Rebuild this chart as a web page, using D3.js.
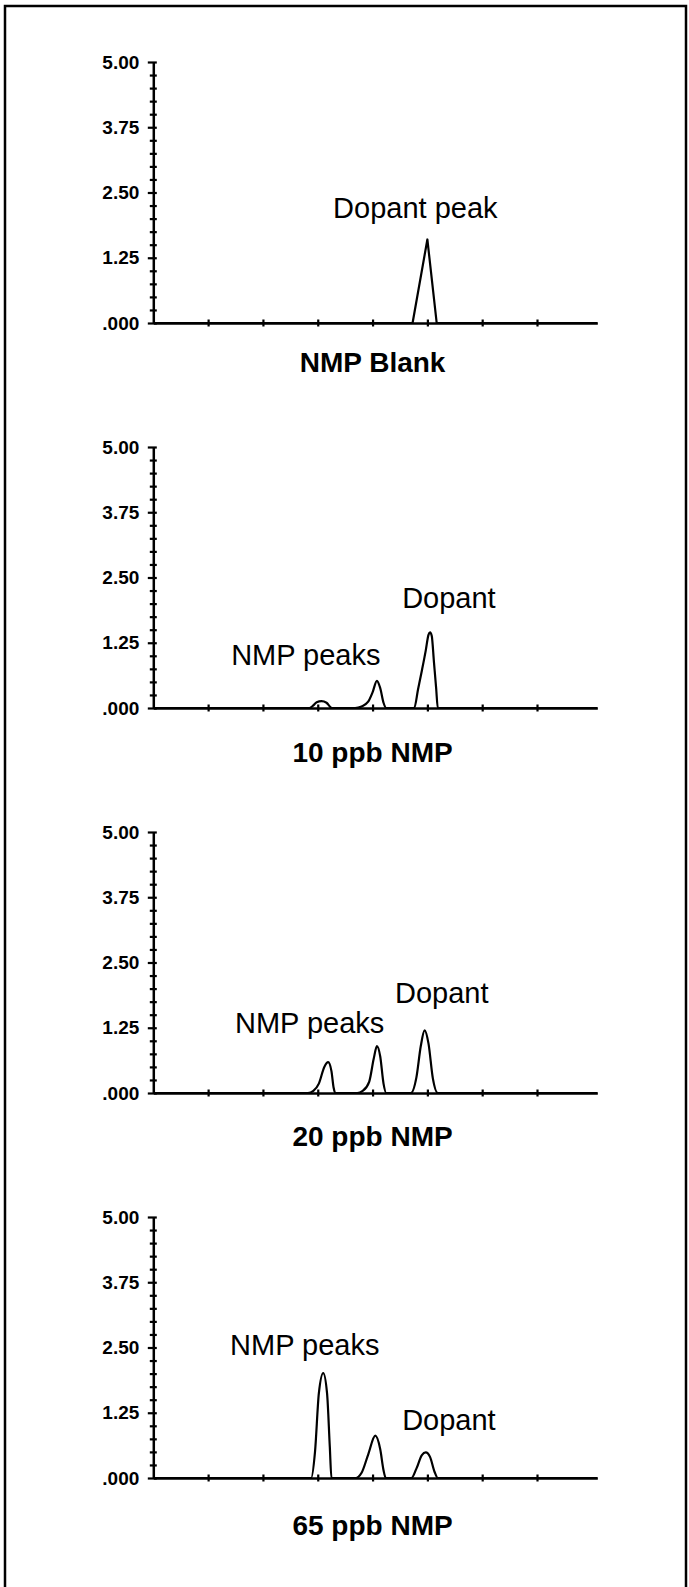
<!DOCTYPE html>
<html>
<head>
<meta charset="utf-8">
<script src="https://cdn.jsdelivr.net/npm/d3@7/dist/d3.min.js"></script>
<style>
body { margin: 0; background: #fff; }
svg { display: block; }
text { font-family: "Liberation Sans", Arial, Helvetica, sans-serif; fill: #000; }
</style>
</head>
<body>
<div id="chart"></div>
<script>
// panel titles
var titles = ["NMP Blank", "10 ppb NMP", "20 ppb NMP", "65 ppb NMP"];

// y axis ticks (every 0.25, labelled every 1.25)
var yTicks = [0, 0.25, 0.5, 0.75, 1, 1.25, 1.5, 1.75, 2, 2.25, 2.5, 2.75, 3, 3.25, 3.5, 3.75, 4, 4.25, 4.5, 4.75, 5];
var yLabelTicks = [0, 1.25, 2.5, 3.75, 5];
var yLabels = [".000", "1.25", "2.50", "3.75", "5.00"];
var xTicks = [1, 2, 3, 4, 5, 6, 7];

// traces [x, signal]
var traceBlank = [[0, 0], [4.73, 0], [5.0, 1.6], [5.17, 0], [8.1, 0]];
var trace10 = [[0, 0], [2.85, 0], [2.92, 0.05], [2.98, 0.11], [3.07, 0.13], [3.16, 0.1], [3.22, 0.03], [3.25, 0],
  [3.68, 0], [3.8, 0.03], [3.92, 0.12], [4.0, 0.3], [4.08, 0.52], [4.14, 0.38], [4.2, 0.1], [4.25, 0],
  [4.76, 0], [4.83, 0.36], [4.9, 0.72], [4.97, 1.1], [5.02, 1.4], [5.05, 1.45], [5.08, 1.38], [5.12, 0.88], [5.16, 0.38], [5.19, 0], [8.1, 0]];
var trace20 = [[0, 0], [2.82, 0], [2.92, 0.04], [3.02, 0.18], [3.12, 0.5], [3.19, 0.59], [3.25, 0.42], [3.29, 0.1], [3.32, 0],
  [3.72, 0], [3.82, 0.04], [3.94, 0.22], [4.02, 0.65], [4.08, 0.9], [4.14, 0.7], [4.2, 0.18], [4.25, 0],
  [4.7, 0], [4.8, 0.3], [4.88, 0.9], [4.95, 1.2], [5.02, 0.95], [5.1, 0.28], [5.19, 0], [8.1, 0]];
var trace65 = [[0, 0], [2.88, 0], [2.95, 0.5], [3.02, 1.62], [3.1, 2.01], [3.17, 1.62], [3.22, 0.6], [3.25, 0],
  [3.69, 0], [3.8, 0.1], [3.92, 0.45], [4.05, 0.81], [4.14, 0.55], [4.2, 0.15], [4.24, 0],
  [4.71, 0], [4.8, 0.18], [4.9, 0.44], [4.97, 0.49], [5.05, 0.4], [5.13, 0.12], [5.19, 0], [8.1, 0]];
var traces = [traceBlank, trace10, trace20, trace65];

// peak annotations [text, x, y] in chart units
var notes = [
  [["Dopant peak", 3.28, 2.01]],
  [["NMP peaks", 1.42, 0.82], ["Dopant", 4.54, 1.92]],
  [["NMP peaks", 1.49, 1.15], ["Dopant", 4.41, 1.72]],
  [["NMP peaks", 1.40, 2.36], ["Dopant", 4.54, 0.92]]
];

var W = 689, H = 1587;
var svg = d3.select("#chart").append("svg")
  .attr("width", W)
  .attr("height", H);

// frame (open at the bottom)
svg.append("rect")
  .attr("x", 5).attr("y", 6)
  .attr("width", 681).attr("height", H + 20)
  .attr("fill", "none").attr("stroke", "#000").attr("stroke-width", 2.5);

var x = d3.scaleLinear().domain([0, 8.1]).range([153.3, 597.3]);
var zeroY = [323, 708, 1093, 1478];
var titleY = [372, 762, 1146, 1535];

titles.forEach(function(t, i) {
  var y = d3.scaleLinear().domain([0, 5]).range([zeroY[i], zeroY[i] - 261]);
  var g = svg.append("g");

  // trace
  g.append("path")
    .datum(traces[i])
    .attr("fill", "none")
    .attr("stroke", "#000")
    .attr("stroke-width", 2.2)
    .attr("stroke-linejoin", "round")
    .attr("d", d3.line()
      .x(function(d) { return x(d[0]); })
      .y(function(d) { return y(d[1]); })
      .curve(i === 0 ? d3.curveLinear : d3.curveMonotoneX));

  // x axis
  var xa = g.append("g")
    .attr("transform", "translate(0," + zeroY[i] + ")")
    .call(d3.axisBottom(x).tickValues(xTicks).tickSizeOuter(0).tickFormat(""));
  xa.select(".domain").attr("stroke-width", 2.5);
  xa.selectAll(".tick line").attr("y1", -3.5).attr("y2", 3.5).attr("stroke-width", 2.2);

  // y axis
  var ya = g.append("g")
    .attr("transform", "translate(" + x(0) + ",0)")
    .call(d3.axisLeft(y).tickValues(yTicks).tickSizeOuter(0)
      .tickFormat(function(d) {
        var k = yLabelTicks.indexOf(d);
        return k >= 0 ? yLabels[k] : "";
      }));
  ya.select(".domain").attr("stroke-width", 2.5);
  ya.selectAll(".tick line")
    .attr("x1", 3.5)
    .attr("x2", function(d) { return yLabelTicks.indexOf(d) >= 0 ? -5.5 : -3.5; })
    .attr("stroke-width", 2.2);
  ya.selectAll(".tick text")
    .attr("x", -14)
    .style("font-size", "19px")
    .style("font-weight", "bold")
    .style("font-family", "'Liberation Sans', Arial, sans-serif");

  // annotations
  g.selectAll(".note")
    .data(notes[i])
    .enter().append("text")
    .attr("class", "note")
    .attr("x", function(d) { return x(d[1]); })
    .attr("y", function(d) { return y(d[2]); })
    .style("font-size", "29px")
    .text(function(d) { return d[0]; });

  // title
  g.append("text")
    .attr("x", x(4))
    .attr("y", titleY[i])
    .attr("text-anchor", "middle")
    .style("font-size", "28px")
    .style("font-weight", "bold")
    .text(t);
});
</script>
</body>
</html>
